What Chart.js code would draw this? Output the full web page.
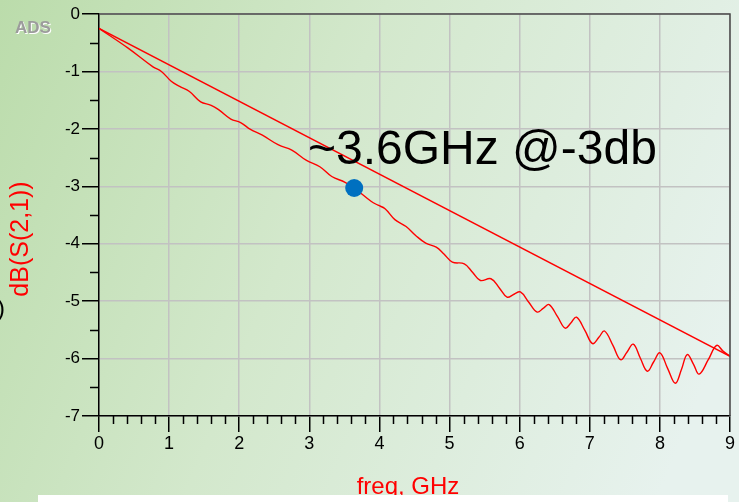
<!DOCTYPE html>
<html>
<head>
<meta charset="utf-8">
<script src="https://cdn.jsdelivr.net/npm/chart.js@4.4.1/dist/chart.umd.min.js"></script>
<style>
html,body{margin:0;padding:0;background:#d4e8cc;}
#c{display:block;}
</style>
</head>
<body>
<canvas id="c" width="739" height="502"></canvas>
<script>
// ---- data ----
const curveFreq = [0, 0.41, 0.77, 0.89, 1.03, 1.15, 1.29, 1.45, 1.60, 1.71, 1.88, 2.02, 2.16, 2.33, 2.56, 2.75, 2.96, 3.15, 3.32, 3.51, 3.64, 3.88, 3.98, 4.08, 4.22, 4.38, 4.52, 4.66, 4.81, 4.92, 5.04, 5.21, 5.33, 5.44, 5.59, 5.71, 5.82, 5.92, 6.01, 6.13, 6.25, 6.34, 6.42, 6.54, 6.65, 6.73, 6.81, 6.93, 7.04, 7.13, 7.21, 7.33, 7.44, 7.53, 7.62, 7.72, 7.82, 7.91, 8.00, 8.11, 8.22, 8.31, 8.39, 8.48, 8.56, 8.69, 8.81, 8.90, 9.00];
const curveDb   = [-0.25, -0.59, -0.92, -1.00, -1.17, -1.26, -1.35, -1.53, -1.59, -1.67, -1.83, -1.89, -2.01, -2.11, -2.28, -2.37, -2.55, -2.66, -2.83, -2.93, -3.03, -3.26, -3.33, -3.39, -3.58, -3.70, -3.86, -3.99, -4.06, -4.18, -4.32, -4.35, -4.50, -4.64, -4.61, -4.77, -4.93, -4.88, -4.84, -5.02, -5.19, -5.12, -5.06, -5.27, -5.47, -5.38, -5.28, -5.51, -5.74, -5.63, -5.52, -5.77, -6.02, -5.89, -5.75, -5.99, -6.22, -6.06, -5.90, -6.17, -6.43, -6.18, -5.93, -6.10, -6.27, -6.02, -5.77, -5.87, -5.96];
const lineFreq  = [0, 9];
const lineDb    = [-0.25, -5.96];
const markerFreq = [3.64];
const markerDb   = [-3.03];
const xTicks = [0, 1, 2, 3, 4, 5, 6, 7, 8, 9];
const yTicks = [0, -1, -2, -3, -4, -5, -6, -7];
const annotationText = '~3.6GHz @-3db';
const xTitle = 'freq, GHz';
const yTitle = 'dB(S(2,1))';
const logoText = 'ADS';

const toPts = (xs, ys) => xs.map((x, i) => ({x: x, y: ys[i]}));

const FONT = '"Liberation Sans", Arial, sans-serif';

const decor = {
  id: 'decor',
  beforeDraw(chart) {
    const c = chart.ctx, w = chart.width, h = chart.height;
    c.save();
    const g = c.createLinearGradient(0, 0, w, h * 0.6);
    g.addColorStop(0, '#bbdcab');
    g.addColorStop(0.45, '#d3e8cc');
    g.addColorStop(1, '#e7f2ee');
    c.fillStyle = g;
    c.fillRect(0, 0, w, h);
    c.restore();
  },
  afterDraw(chart) {
    const c = chart.ctx;
    const xs = chart.scales.x, ys = chart.scales.y;
    const a = chart.chartArea;
    c.save();
    // top and right frame
    c.strokeStyle = '#4a4a4a';
    c.lineWidth = 1.5;
    c.beginPath();
    c.moveTo(a.left, ys.getPixelForValue(0));
    c.lineTo(xs.getPixelForValue(9), ys.getPixelForValue(0));
    c.lineTo(xs.getPixelForValue(9), ys.getPixelForValue(-7));
    c.stroke();
    // minor ticks
    c.strokeStyle = '#000';
    c.lineWidth = 1.5;
    c.beginPath();
    for (let i = 1; i < 45; i++) {
      if (i % 5 === 0) continue;
      const px = Math.round(xs.getPixelForValue(i / 5)) + 0.5;
      c.moveTo(px, a.bottom);
      c.lineTo(px, a.bottom + 8);
    }
    for (let i = 0; i < 7; i++) {
      const py = Math.round(ys.getPixelForValue(-i - 0.5)) + 0.5;
      c.moveTo(a.left - 9, py);
      c.lineTo(a.left, py);
    }
    c.stroke();
    // annotation
    c.fillStyle = '#000';
    c.font = '48px ' + FONT;
    c.textAlign = 'left';
    c.textBaseline = 'alphabetic';
    c.fillText(annotationText, 308, 164);
    // axis titles
    c.fillStyle = '#ff0000';
    c.font = '24px ' + FONT;
    c.textAlign = 'center';
    c.fillText(xTitle, 408, 494);
    c.save();
    c.translate(28, 239);
    c.rotate(-Math.PI / 2);
    c.font = '25px ' + FONT;
    c.fillText(yTitle, 0, 0);
    c.restore();
    // logo
    c.font = 'bold 17px ' + FONT;
    c.textAlign = 'left';
    c.fillStyle = '#ffffff';
    c.fillText(logoText, 16, 34);
    c.fillStyle = '#9c9c9c';
    c.fillText(logoText, 15, 33);
    // clipped glyph at left edge
    c.fillStyle = '#000';
    c.font = '24px ' + FONT;
    c.fillText(')', -3, 316);
    // white strip at bottom
    c.fillStyle = '#ffffff';
    c.fillRect(38, 495, 690, 7);
    c.restore();
  }
};

new Chart(document.getElementById('c'), {
  type: 'scatter',
  data: {
    datasets: [
      {data: toPts(curveFreq, curveDb), showLine: true, borderColor: '#ff0000', borderWidth: 1.4, pointRadius: 0, tension: 0.4, fill: false, order: 2},
      {data: toPts(lineFreq, lineDb), showLine: true, borderColor: '#ff0000', borderWidth: 1.4, pointRadius: 0, fill: false, order: 2},
      {data: toPts(markerFreq, markerDb), showLine: false, pointRadius: 9, pointBackgroundColor: '#0070c0', pointBorderColor: '#0070c0', pointBorderWidth: 0, order: 0}
    ]
  },
  options: {
    responsive: false,
    animation: false,
    layout: {padding: {left: 0, top: 14, right: 6, bottom: 0}},
    plugins: {legend: {display: false}, tooltip: {enabled: false}},
    scales: {
      x: {
        type: 'linear', min: 0, max: 9,
        afterBuildTicks: s => { s.ticks = xTicks.map(v => ({value: v})); },
        afterFit: s => { s.height = 86; },
        ticks: {color: '#000', font: {family: FONT, size: 18}, padding: 1, maxRotation: 0, autoSkip: false},
        grid: {color: '#c2c2c2', lineWidth: 1.5, tickLength: 16, tickColor: '#000', tickWidth: 1.5},
        border: {color: '#000', width: 1.5}
      },
      y: {
        type: 'linear', min: -7, max: 0,
        afterBuildTicks: s => { s.ticks = yTicks.map(v => ({value: v})); },
        afterFit: s => { s.width = 99; },
        ticks: {color: '#000', font: {family: FONT, size: 17}, padding: 2, autoSkip: false},
        grid: {color: '#c2c2c2', lineWidth: 1.5, tickLength: 17, tickColor: '#000', tickWidth: 1.5},
        border: {color: '#000', width: 1.5}
      }
    }
  },
  plugins: [decor]
});
</script>
</body>
</html>
